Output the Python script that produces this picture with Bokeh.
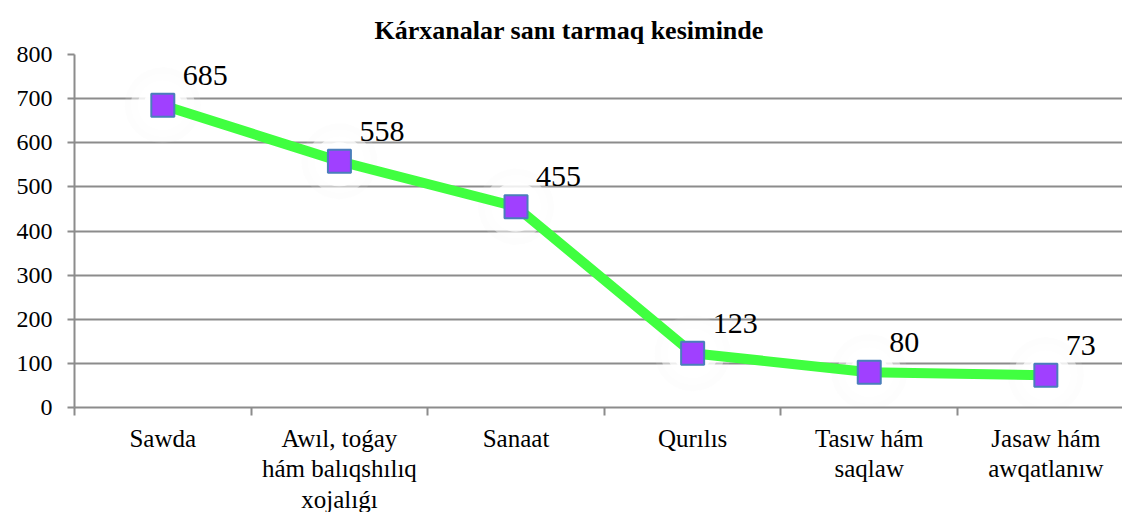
from bokeh.plotting import figure
from bokeh.models import FixedTicker, Range1d, ColumnDataSource
from bokeh.embed import file_html
from bokeh.resources import INLINE
from bokeh.core.properties import value

# ---- data ----
categories = [
    "Sawda",
    "Awıl, toǵay\nhám balıqshılıq\nxojalıǵı",
    "Sanaat",
    "Qurılıs",
    "Tasıw hám\nsaqlaw",
    "Jasaw hám\nawqatlanıw",
]
counts = [685, 558, 455, 123, 80, 73]
y_ticks = [0, 100, 200, 300, 400, 500, 600, 700, 800]
title_text = "Kárxanalar sanı tarmaq kesiminde"

positions = list(range(len(categories)))
src = ColumnDataSource(dict(x=positions, y=counts, lab=[str(c) for c in counts]))

SERIF = "Liberation Serif"
GRID = "#8c8c8c"

p = figure(
    frame_width=1048, frame_height=353,
    output_backend="svg", toolbar_location=None,
    x_range=Range1d(-0.5, 5.434), y_range=Range1d(0, 800),
    min_border_left=74, min_border_right=0, min_border_top=54, min_border_bottom=0,
    title=title_text,
)
p.outline_line_color = None
p.background_fill_color = "white"
p.border_fill_color = "white"

p.title.text_font = SERIF
p.title.text_font_size = "26px"
p.title.text_font_style = "bold"
p.title.text_color = "black"
p.title.align = "left"
p.title.offset = 300
p.title.standoff = 20

# grid
p.xgrid.visible = False
p.ygrid.ticker = FixedTicker(ticks=y_ticks)
p.ygrid.grid_line_color = GRID
p.ygrid.grid_line_width = 2

# y axis
p.yaxis.ticker = FixedTicker(ticks=y_ticks)
p.yaxis.axis_line_color = GRID
p.yaxis.axis_line_width = 2
p.yaxis.major_tick_line_color = GRID
p.yaxis.major_tick_line_width = 2
p.yaxis.major_tick_out = 7
p.yaxis.major_tick_in = 0
p.yaxis.minor_tick_line_color = None
p.yaxis.major_label_standoff = 15
p.yaxis.major_label_text_font = SERIF
p.yaxis.major_label_text_font_size = "24px"
p.yaxis.major_label_text_color = "black"

# x axis
boundaries = [i - 0.5 for i in range(len(categories) + 1)]
p.xaxis.ticker = FixedTicker(ticks=positions, minor_ticks=boundaries)
p.xaxis.major_label_overrides = {i: c for i, c in zip(positions, categories)}
p.xaxis.axis_line_color = GRID
p.xaxis.axis_line_width = 2
p.xaxis.major_tick_line_color = None
p.xaxis.minor_tick_line_color = GRID
p.xaxis.minor_tick_line_width = 2
p.xaxis.minor_tick_out = 8
p.xaxis.minor_tick_in = 0
p.xaxis.major_label_standoff = 9
p.xaxis.major_label_text_font = SERIF
p.xaxis.major_label_text_font_size = "25px"
p.xaxis.major_label_text_line_height = 1.13
p.xaxis.major_label_text_color = "black"

# soft glow around markers
p.scatter("x", "y", source=src, marker="circle", size=76, fill_color="#f0f0f0", fill_alpha=0.12, line_color=None)
p.scatter("x", "y", source=src, marker="circle", size=64, fill_color="white", fill_alpha=0.45, line_color=None)
p.scatter("x", "y", source=src, marker="circle", size=50, fill_color="white", fill_alpha=0.7, line_color=None)
p.scatter("x", "y", source=src, marker="circle", size=38, fill_color="white", fill_alpha=0.9, line_color=None)

# line + markers
p.line("x", "y", source=src, line_color="#40ff40", line_width=10)
p.scatter("x", "y", source=src, marker="square", size=23, fill_color="#a040ff",
          line_color="#4a7ebb", line_width=2)

# data labels
p.text("x", "y", text="lab", source=src, x_offset=20, y_offset=-30,
       text_font=value(SERIF), text_font_size="30px", text_color="black",
       text_align="left", text_baseline="alphabetic")

open("out.html", "w").write(file_html(p, INLINE))
